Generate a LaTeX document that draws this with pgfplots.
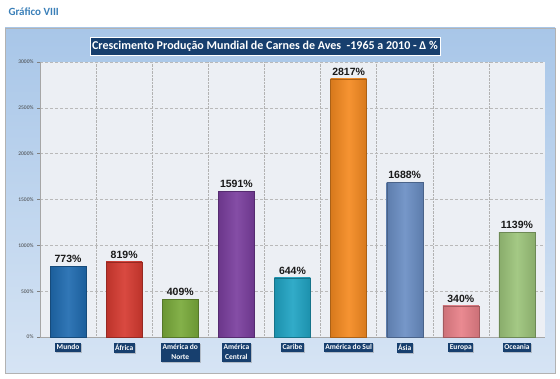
\documentclass[border=0pt]{standalone}
\usepackage{pgfplots}
\pgfplotsset{compat=1.18}
\usepackage{fontspec}
\setmainfont{Carlito}
\newfontfamily\arialf{Liberation Sans}
\usetikzlibrary{shadows}
\definecolor{navy}{HTML}{173F6E}
\definecolor{frame}{HTML}{A8C6E8}
\definecolor{framelight}{HTML}{D6E4F4}
\definecolor{plotbg}{HTML}{ECEFF4}
\definecolor{hdr}{HTML}{3A7FB8}
\definecolor{cMundo}{HTML}{1F6BB0}
\definecolor{cAfrica}{HTML}{D63A30}
\definecolor{cANorte}{HTML}{79AA3A}
\definecolor{cACentral}{HTML}{7A3E9E}
\definecolor{cCaribe}{HTML}{20A4C4}
\definecolor{cASul}{HTML}{F58A20}
\definecolor{cAsia}{HTML}{6A8EC4}
\definecolor{cEuropa}{HTML}{E88088}
\definecolor{cOceania}{HTML}{9CC47A}
\pgfplotsset{barc/.style={fill=#1,draw=#1!70!black,left color=#1!88!black,right color=#1!88!black,middle color=#1!92!white}}
\begin{document}
\begin{tikzpicture}[x=1pt,y=1pt]
\path[use as bounding box] (0,0) rectangle (560,378);
\node[anchor=west,text=hdr,font=\bfseries\fontsize{11}{12}\selectfont] at (5,366) {Gráfico VIII};
\shade[top color=frame,bottom color=framelight,draw=gray!60] (5,5) rectangle (555,350);
\node[fill=navy,draw=white,line width=0.6pt,text=white,inner sep=2pt,minimum height=18pt,
      font=\bfseries\fontsize{12}{14}\selectfont] at (265,332)
  {Crescimento Produção Mundial de Carnes de Aves\ \ -1965 a\ 2010 - Δ \%};
\begin{axis}[
  at={(40pt,41pt)}, anchor=south west,
  scale only axis, width=505pt, height=275pt,
  xmin=-0.5, xmax=8.5, ymin=0, ymax=3000,
  axis background/.style={fill=plotbg},
  xtick={0,...,8},
  xticklabels={Mundo,África,{América do\\Norte},{América\\Central},Caribe,América do Sul,Ásia,Europa,Oceania},
  xticklabel style={fill=navy,text=white,font=\bfseries\fontsize{7.5}{10}\selectfont,align=center,
     inner sep=1.5pt,drop shadow={opacity=0.4,shadow xshift=1pt,shadow yshift=-1pt},yshift=-3pt},
  minor xtick={0.5,1.5,...,7.5},
  minor x tick style={draw=none},
  xminorgrids, minor grid style={densely dotted,gray!60,line width=0.5pt},
  x tick style={draw=none},
  ytick={0,500,...,3000},
  yticklabel={\pgfmathprintnumber[1000 sep={}]{\tick}\%},
  yticklabel style={font=\fontsize{5.5}{6}\selectfont,text=black!75},
  /pgf/number format/assume math mode=true,
  ymajorgrids, major grid style={densely dashed,gray!55,line width=0.5pt},
  y tick style={gray,line width=0.4pt},
  tick align=outside, major tick length=3pt,
  axis y line*=left, axis x line*=bottom,
  axis line style={gray!70,line width=0.5pt},
  ybar, bar width=36pt, bar shift=0pt,
  nodes near coords={\pgfmathprintnumber[1000 sep={}]{\pgfplotspointmeta}\%},
  nodes near coords style={font=\arialf\bfseries\fontsize{10.5}{12}\selectfont,text=black!90},
  point meta=explicit,
]
\addplot[barc=cMundo] coordinates {(0,773)[773]};
\addplot[barc=cAfrica] coordinates {(1,819)[819]};
\addplot[barc=cANorte] coordinates {(2,409)[409]};
\addplot[barc=cACentral] coordinates {(3,1591)[1591]};
\addplot[barc=cCaribe] coordinates {(4,644)[644]};
\addplot[barc=cASul] coordinates {(5,2817)[2817]};
\addplot[barc=cAsia] coordinates {(6,1688)[1688]};
\addplot[barc=cEuropa] coordinates {(7,340)[340]};
\addplot[barc=cOceania] coordinates {(8,1139)[1139]};
\end{axis}
\end{tikzpicture}
\end{document}
